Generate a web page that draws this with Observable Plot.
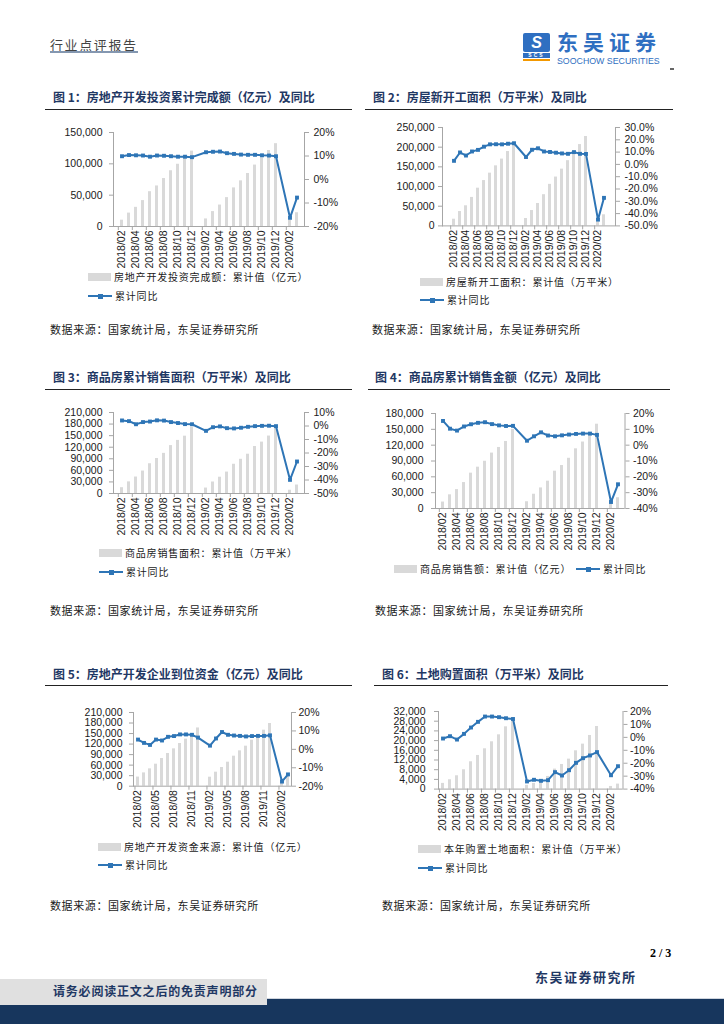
<!DOCTYPE html>
<html><head><meta charset="utf-8">
<script src="https://cdn.jsdelivr.net/npm/d3@7"></script>
<script src="https://cdn.jsdelivr.net/npm/@observablehq/plot@0.6"></script>
<style>
html,body{margin:0;padding:0;background:#fff;}
#page{position:relative;width:724px;height:1024px;overflow:hidden;font-family:"Noto Sans CJK SC","Noto Sans",sans-serif;background:#fff;}
#page div{box-sizing:border-box;}
</style></head><body><div id="page"></div>
<script>
// ---------- data ----------
const cats = ["2018/02","2018/03","2018/04","2018/05","2018/06","2018/07","2018/08","2018/09","2018/10","2018/11","2018/12","2019/01",
  "2019/02","2019/03","2019/04","2019/05","2019/06","2019/07","2019/08","2019/09","2019/10","2019/11","2019/12","2020/01","2020/02","2020/03"];
const tickLabels2 = ["2018/02","2018/04","2018/06","2018/08","2018/10","2018/12","2019/02","2019/04","2019/06","2019/08","2019/10","2019/12","2020/02"];
const tickLabels3 = ["2018/02","2018/05","2018/08","2018/11","2019/02","2019/05","2019/08","2019/11","2020/02"];

// 图1 房地产开发投资完成额 累计值（亿元） / 累计同比（%）
const invValue = [10063,21353,30592,41349,55531,64691,76519,88948,99325,110083,120264,null,12090,23803,34217,46075,61609,72843,84589,98008,109603,121265,132194,null,10115,21963];
const invYoy   = [9.9,10.4,10.3,10.2,9.7,10.2,10.1,9.9,9.7,9.7,9.5,null,11.6,11.8,11.9,11.2,10.9,10.6,10.5,10.5,10.3,10.2,9.9,null,-16.3,-7.7];
// 图2 房屋新开工面积（万平米）
const startValue = [17009,36482,51075,72336,95817,115133,133969,152583,169756,188895,209342,null,18814,39006,56946,79250,105509,124108,144216,165707,188199,206641,227154,null,10370,28203];
const startYoy   = [2.9,9.7,7.2,10.5,11.8,14.4,16.3,16.4,16.3,16.8,17.2,null,6.0,11.9,13.1,10.5,10.1,9.5,8.9,8.6,10.0,8.6,8.5,null,-44.9,-27.2];
// 图3 商品房销售面积（万平米）
const areaValue = [15064,30129,42693,58199,77143,90717,104040,124201,137642,148604,171654,null,14102,29829,42252,55518,75786,88680,101849,121840,133251,148905,171558,null,8475,21978];
const areaYoy   = [4.1,3.6,1.3,2.9,3.3,4.2,4.0,2.9,2.2,1.4,1.3,null,-3.6,-0.9,-0.3,-1.6,-1.8,-1.3,-0.6,-0.1,0.1,0.2,-0.1,null,-39.9,-26.3];
// 图4 商品房销售额（亿元）
const amtValue = [12201,25918,35837,49125,66945,78289,89489,105010,115628,127003,149973,null,12803,27039,38993,51773,70698,81410,95166,113079,125952,139006,159725,null,8203,20365];
const amtYoy   = [15.3,10.4,9.2,11.8,13.2,14.1,14.5,13.3,12.5,12.1,12.2,null,2.8,5.6,8.1,6.1,5.6,6.2,6.7,7.1,7.3,7.3,6.5,null,-35.9,-24.7];
// 图5 房地产开发资金来源（亿元）
const fundValue = [26000,37900,49400,62700,78900,93100,106400,121600,134000,148200,165963,null,25700,39900,53200,68400,85500,100700,114000,131100,142500,159600,178609,null,20601,33566];
const fundYoy   = [5.3,3.5,2.4,5.3,4.8,6.8,7.2,8.1,8.1,7.9,6.4,null,2.0,5.9,9.4,7.9,7.5,7.3,7.0,7.2,7.3,7.3,7.6,null,-17.5,-13.6];
// 图6 本年购置土地面积（万平米）
const landValue = [2350,3845,5490,7966,11262,13871,16618,19502,22386,25682,29142,null,1547,2335,3845,5219,8240,10163,12360,15794,18541,22112,25822,null,1099,2060];
const landYoy   = [-0.9,0.9,-1.7,2.7,7.6,12.0,16.1,16.1,15.6,14.8,14.2,null,-34.1,-32.8,-33.6,-33.1,-26.9,-29.5,-25.4,-19.7,-16.1,-14.0,-11.4,null,-29.3,-22.3];

const titles = ["图 1：房地产开发投资累计完成额（亿元）及同比","图 2：房屋新开工面积（万平米）及同比","图 3：商品房累计销售面积（万平米）及同比",
  "图 4：商品房累计销售金额（亿元）及同比","图 5：房地产开发企业到位资金（亿元）及同比","图 6：土地购置面积（万平米）及同比"];
const barNames = ["房地产开发投资完成额：累计值（亿元）","房屋新开工面积：累计值（万平米）","商品房销售面积：累计值（万平米）",
  "商品房销售额：累计值（亿元）","房地产开发资金来源：累计值（亿元）","本年购置土地面积：累计值（万平米）"];
const lineName = "累计同比";
const sourceText = "数据来源：国家统计局，东吴证券研究所";

// ---------- helpers ----------
const page = document.getElementById("page");
function box(css){const e=document.createElement("div");e.style.cssText="position:absolute;"+css;page.appendChild(e);return e;}
function label(x,yc,text,size,extra,lh){const h=size*(lh||1.2);const e=box(`left:${x}px;top:${yc-h/2}px;font-size:${size}px;line-height:${h}px;height:${h}px;white-space:nowrap;${extra||""}`);e.textContent=text;return e;}

const BLUE="#2e75b6", BAR="#d9d9d9", AX="#a6a6a6", TXT="#1a1a1a";
const pct0 = d => (d<0?"-":"")+Math.abs(d)+"%";
const pct1 = d => (d<0?"-":"")+Math.abs(d).toFixed(1)+"%";

function makeChart(c){
  const ML=72, MR=52, MT=10, MB=52;
  const pw=c.R-c.L, ph=c.B-c.T, W=pw+ML+MR, H=ph+MT+MB;
  const holder=box(`left:${c.L-ML}px;top:${c.T-MT}px;width:${W}px;height:${H}px;`);
  const step=pw/cats.length;
  const rows=cats.map((k,i)=>({cat:k,v:c.vals[i],p:c.yoy[i]}));
  const xOpt={type:"band",domain:cats,paddingInner:0.58,paddingOuter:0.29};
  const style={background:"transparent",fontFamily:"'Liberation Sans',Arial,sans-serif",fontSize:"10.5px",color:TXT,overflow:"visible"};
  const bars=Plot.plot({width:W,height:H,marginLeft:ML,marginRight:MR,marginTop:MT,marginBottom:MB,style,
    x:xOpt, y:{domain:[0,c.yMax]},
    marks:[
      Plot.barY(rows.filter(d=>d.v!=null),{x:"cat",y:"v",fill:BAR}),
      Plot.ruleY([0],{stroke:AX}),
      Plot.frame({anchor:"left",stroke:AX}),
      Plot.axisY({anchor:"left",ticks:d3.range(0,c.yMax+1,c.yStep),tickSize:4,tickPadding:c.lpad,stroke:AX,fill:TXT,tickFormat:d3.format(","),label:null}),
      Plot.axisX({ticks:c.ticks,tickSize:0,tickPadding:4,tickRotate:-90,fill:TXT,label:null}),
      Plot.axisX({ticks:c.ticks,tickSize:4,tickFormat:()=>"",dx:-step/2,stroke:AX,label:null})
    ]});
  const lines=Plot.plot({width:W,height:H,marginLeft:ML,marginRight:MR,marginTop:MT,marginBottom:MB,style,
    x:{...xOpt,axis:null}, y:{domain:[c.pMin,c.pMax]},
    marks:[
      Plot.frame({anchor:"right",stroke:AX}),
      Plot.axisY({anchor:"right",ticks:d3.range(c.pMin,c.pMax+0.001,c.pStep),tickSize:4,tickPadding:c.rpad,stroke:AX,fill:TXT,tickFormat:c.fmt,label:null}),
      Plot.line(rows.filter(d=>d.p!=null),{x:"cat",y:"p",stroke:BLUE,strokeWidth:2}),
      Plot.dot(rows.filter(d=>d.p!=null),{x:"cat",y:"p",symbol:"square",r:2.2,fill:BLUE})
    ]});
  for(const s of [bars,lines]){s.style.position="absolute";s.style.left="0";s.style.top="0";holder.appendChild(s);}
}

function barLegend(x,y,text){box(`left:${x}px;top:${y-4}px;width:23px;height:8px;background:${BAR};`);label(x+26,y,text,10,`color:${TXT};letter-spacing:0.8px;`);}
function lineLegend(x,y){box(`left:${x}px;top:${y-1}px;width:24px;height:2px;background:${BLUE};`);box(`left:${x+10}px;top:${y-2.5}px;width:5px;height:5px;background:${BLUE};`);label(x+27,y,lineName,10,`color:${TXT};letter-spacing:0.8px;`);}
function titleBlock(x,y,text,r1,r2,ry){label(x,y,text,12,"font-weight:bold;color:#1f3864;");box(`left:${r1}px;top:${ry}px;width:${r2-r1}px;height:1.5px;background:#222;`);}
function source(x,y){label(x,y,sourceText,11,`color:${TXT};letter-spacing:0.6px;`);}

// ---------- header ----------
label(50,45,"行业点评报告",13,"color:#444;letter-spacing:1.6px;");
box("left:50px;top:51px;width:88px;height:2px;background:#8497b0;");
const ic=box("left:523px;top:33px;width:27px;height:19px;background:#2f6fc1;border-radius:2px;color:#fff;font:bold italic 16px 'Liberation Sans',sans-serif;text-align:center;line-height:19px;");ic.textContent="S";
const scs=box("left:523px;top:53px;width:27px;height:5px;background:#2f6fc1;color:#fff;font:bold 5px 'Liberation Sans',sans-serif;text-align:center;line-height:5px;letter-spacing:2px;");scs.textContent="SCS";
box("left:523px;top:59px;width:27px;height:2px;background:#f39800;");
label(557,41.5,"东吴证券",21,"font-weight:bold;color:#2f6fc1;letter-spacing:5px;",1.0);
label(557,61,"SOOCHOW SECURITIES",8.8,"color:#2f6fc1;font-family:'Liberation Sans',sans-serif;",1.0);
box("left:670px;top:68px;width:4px;height:1.5px;background:#666;");

// ---------- titles ----------
titleBlock(53,97,titles[0],45,352,108.5);
titleBlock(373,97,titles[1],365,673,108.5);
titleBlock(53,377,titles[2],45,352,388.5);
titleBlock(375,377,titles[3],368,670,388.5);
titleBlock(53,674,titles[4],45,352,684.5);
titleBlock(382,674,titles[5],374,668,684.5);

// ---------- charts ----------
makeChart({L:113,R:304,T:132,B:226,vals:invValue,yoy:invYoy,yMax:150000,yStep:50000,pMin:-20,pMax:20,pStep:10,fmt:pct0,ticks:tickLabels2,lpad:7,rpad:5});
makeChart({L:442,R:615,T:127.3,B:225.7,vals:startValue,yoy:startYoy,yMax:250000,yStep:50000,pMin:-50,pMax:30,pStep:10,fmt:pct1,ticks:tickLabels2,lpad:4,rpad:5});
makeChart({L:113,R:304,T:412.3,B:493.3,vals:areaValue,yoy:areaYoy,yMax:210000,yStep:30000,pMin:-50,pMax:10,pStep:10,fmt:pct0,ticks:tickLabels2,lpad:7,rpad:5});
makeChart({L:434.5,R:624,T:413.3,B:508.3,vals:amtValue,yoy:amtYoy,yMax:180000,yStep:30000,pMin:-40,pMax:20,pStep:10,fmt:pct0,ticks:tickLabels2,lpad:8,rpad:4});
makeChart({L:133,R:291,T:712.3,B:786,vals:fundValue,yoy:fundYoy,yMax:210000,yStep:30000,pMin:-20,pMax:20,pStep:10,fmt:pct0,ticks:tickLabels3,lpad:7,rpad:3});
makeChart({L:437.5,R:622,T:710.7,B:788.3,vals:landValue,yoy:landYoy,yMax:32000,yStep:4000,pMin:-40,pMax:20,pStep:10,fmt:pct0,ticks:tickLabels2,lpad:9,rpad:3});

// ---------- legends ----------
barLegend(88,277,barNames[0]); lineLegend(88,296);
barLegend(420,282,barNames[1]); lineLegend(420,300);
barLegend(99,553,barNames[2]); lineLegend(99,572);
barLegend(394,569,barNames[3]); lineLegend(576,569);
barLegend(98,847,barNames[4]); lineLegend(98,865);
barLegend(418,849,barNames[5]); lineLegend(418,868);

// ---------- sources ----------
source(50,330); source(372,330);
source(50,611); source(375,611);
source(50,906); source(382,906);

// ---------- footer ----------
label(650,953,"2 / 3",12,"font-weight:bold;color:#000;font-family:'Liberation Serif',serif;");
label(535,977,"东吴证券研究所",13,"color:#1f3864;letter-spacing:1.5px;font-weight:bold;");
box("left:0;top:999px;width:724px;height:25px;background:#17365d;");
box("left:267px;top:998px;width:457px;height:1px;background:#cfd5de;");
box("left:0;top:979px;width:267px;height:26px;background:#e0e0e0;");
label(53,991,"请务必阅读正文之后的免责声明部分",12,"font-weight:bold;color:#1f3864;letter-spacing:0.8px;");
</script></body></html>
